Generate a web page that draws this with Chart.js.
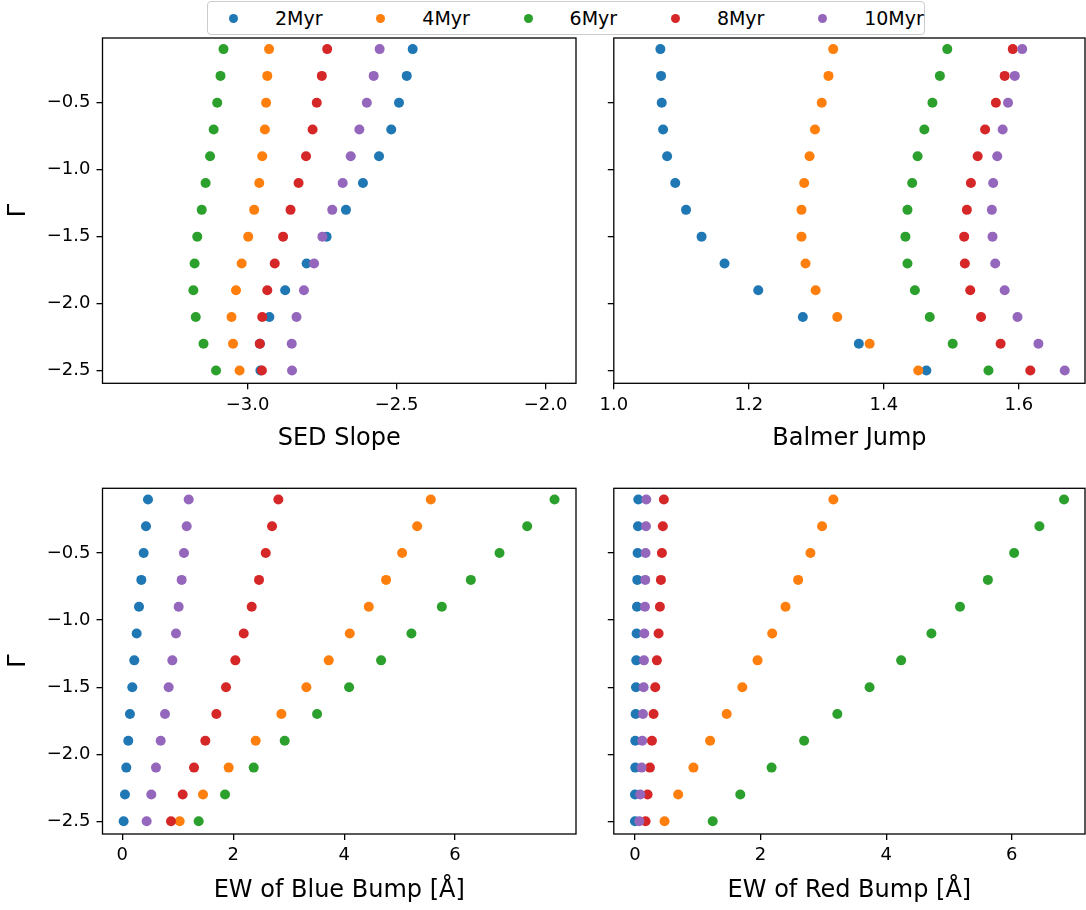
<!DOCTYPE html>
<html>
<head>
<meta charset="utf-8">
<script src="https://cdn.jsdelivr.net/npm/chart.js@4.4.1/dist/chart.umd.min.js"></script>
<style>
  html, body { margin: 0; padding: 0; background: #fff; overflow: hidden; }
  #wrap { position: relative; width: 1086px; height: 910px; overflow: hidden; font-family: "DejaVu Sans", sans-serif; }
  canvas { position: absolute; }
  #legend { position: absolute; left: 206.5px; top: 1px; width: 716px; height: 32px;
    border: 1px solid #cccccc; border-radius: 4px; background: rgba(255,255,255,0.8); }
  .item { position: absolute; top: 0; height: 32px; line-height: 32px; font-size: 19px; color: #000; }
  .dot { position: absolute; top: 11.5px; width: 9px; height: 9px; border-radius: 50%; }
</style>
</head>
<body>
<div id="wrap">
  <div id="legend"></div>
  <canvas id="pSed" width="590" height="455" style="left:0;top:0"></canvas>
  <canvas id="pBalmer" width="500" height="455" style="left:590px;top:0"></canvas>
  <canvas id="pBlue" width="590" height="455" style="left:0;top:455px"></canvas>
  <canvas id="pRed" width="500" height="455" style="left:590px;top:455px"></canvas>
</div>
<script>
const ages = ['2Myr', '4Myr', '6Myr', '8Myr', '10Myr'];
const colors = ['#1f77b4', '#ff7f0e', '#2ca02c', '#d62728', '#9467bd'];
const gamma = [-0.1, -0.3, -0.5, -0.7, -0.9, -1.1, -1.3, -1.5, -1.7, -1.9, -2.1, -2.3, -2.5];
const gammaTicks = [-0.5, -1.0, -1.5, -2.0, -2.5];

// SED slope
const sed2 = [-2.446, -2.466, -2.492, -2.518, -2.559, -2.613, -2.670, -2.735, -2.802, -2.874, -2.927, -2.959, -2.957];
const sed4 = [-2.928, -2.934, -2.938, -2.942, -2.951, -2.961, -2.978, -2.998, -3.020, -3.039, -3.054, -3.049, -3.027];
const sed6 = [-3.081, -3.091, -3.102, -3.114, -3.126, -3.141, -3.154, -3.169, -3.178, -3.182, -3.174, -3.148, -3.106];
const sed8 = [-2.733, -2.751, -2.768, -2.782, -2.804, -2.829, -2.856, -2.881, -2.909, -2.934, -2.951, -2.959, -2.952];
const sed10 = [-2.557, -2.577, -2.600, -2.625, -2.654, -2.681, -2.716, -2.749, -2.777, -2.811, -2.836, -2.852, -2.851];
const sedTicks = [-3.0, -2.5, -2.0];

// Balmer jump
const bj2 = [1.069, 1.070, 1.071, 1.073, 1.079, 1.091, 1.107, 1.130, 1.164, 1.214, 1.280, 1.363, 1.463];
const bj4 = [1.325, 1.318, 1.308, 1.298, 1.290, 1.282, 1.278, 1.278, 1.284, 1.299, 1.331, 1.379, 1.451];
const bj6 = [1.494, 1.483, 1.472, 1.460, 1.450, 1.442, 1.435, 1.432, 1.435, 1.446, 1.468, 1.502, 1.555];
const bj8 = [1.591, 1.579, 1.566, 1.550, 1.539, 1.529, 1.523, 1.519, 1.520, 1.528, 1.544, 1.573, 1.617];
const bj10 = [1.605, 1.594, 1.584, 1.576, 1.568, 1.562, 1.560, 1.561, 1.565, 1.579, 1.598, 1.629, 1.668];
const bjTicks = [1.0, 1.2, 1.4, 1.6];

// EW blue bump
const bb2 = [0.463, 0.427, 0.385, 0.343, 0.301, 0.259, 0.216, 0.180, 0.138, 0.108, 0.072, 0.048, 0.024];
const bb4 = [5.562, 5.316, 5.045, 4.756, 4.444, 4.101, 3.722, 3.319, 2.868, 2.405, 1.918, 1.455, 1.034];
const bb6 = [7.793, 7.300, 6.801, 6.284, 5.761, 5.213, 4.666, 4.089, 3.512, 2.928, 2.369, 1.852, 1.377];
const bb8 = [2.814, 2.700, 2.586, 2.465, 2.333, 2.189, 2.038, 1.870, 1.696, 1.497, 1.293, 1.088, 0.878];
const bb10 = [1.197, 1.161, 1.112, 1.070, 1.016, 0.968, 0.902, 0.836, 0.770, 0.692, 0.607, 0.523, 0.439];

// EW red bump
const rb2 = [0.053, 0.048, 0.042, 0.037, 0.032, 0.026, 0.021, 0.016, 0.011, 0.005, 0.005, 0.000, 0.000];
const rb4 = [3.159, 2.979, 2.794, 2.598, 2.397, 2.185, 1.952, 1.709, 1.460, 1.196, 0.931, 0.688, 0.471];
const rb6 = [6.831, 6.439, 6.037, 5.619, 5.175, 4.720, 4.238, 3.735, 3.222, 2.693, 2.175, 1.677, 1.238];
const rb8 = [0.460, 0.444, 0.429, 0.413, 0.397, 0.376, 0.349, 0.323, 0.296, 0.270, 0.238, 0.201, 0.169];
const rb10 = [0.180, 0.175, 0.169, 0.164, 0.159, 0.148, 0.143, 0.138, 0.127, 0.116, 0.106, 0.085, 0.069];
const ewTicks = [0, 2, 4, 6];

const FONT = '"DejaVu Sans", sans-serif';

// legend (shared by all panels)
const legend = document.getElementById('legend');
ages.forEach((a, i) => {
  const dot = document.createElement('span');
  dot.className = 'dot';
  dot.style.left = (21.5 + i * 147.3) + 'px';
  dot.style.background = colors[i];
  legend.appendChild(dot);
  const lab = document.createElement('span');
  lab.className = 'item';
  lab.style.left = (67.5 + i * 147.3) + 'px';
  lab.textContent = a;
  legend.appendChild(lab);
});

const frame = {
  id: 'frame',
  afterDraw(chart) {
    const a = chart.chartArea, ctx = chart.ctx;
    ctx.save();
    ctx.strokeStyle = '#000';
    ctx.lineWidth = 1.3;
    ctx.strokeRect(a.left, a.top, a.right - a.left, a.bottom - a.top);
    ctx.restore();
  }
};

const fmt = (v, d) => v.toFixed(d).replace('-', '\u2212');

function panel(id, series, p) {
  new Chart(document.getElementById(id), {
    type: 'scatter',
    data: {
      datasets: series.map((vals, i) => ({
        label: ages[i],
        data: vals.map((x, k) => ({ x: x, y: gamma[k] })),
        backgroundColor: colors[i],
        borderWidth: 0,
        pointRadius: 5,
        pointHoverRadius: 5,
        order: series.length - i
      }))
    },
    options: {
      responsive: false,
      animation: false,
      events: [],
      layout: { padding: { left: 0, top: p.top, right: p.right, bottom: 0 } },
      plugins: { legend: { display: false }, tooltip: { enabled: false } },
      scales: {
        x: {
          type: 'linear',
          min: p.xmin, max: p.xmax,
          afterBuildTicks: s => { s.ticks = p.xticks.map(v => ({ value: v })); },
          afterFit: s => { s.height = p.xh; },
          border: { display: false },
          grid: { drawOnChartArea: false, drawTicks: true, tickLength: 6, color: '#000', lineWidth: 1.3 },
          ticks: { autoSkip: false, maxRotation: 0, padding: 5, color: '#000',
            font: { family: FONT, size: 18 }, callback: v => fmt(v, p.dec) },
          title: { display: true, text: p.xlabel, color: '#000',
            font: { family: FONT, size: 24 }, padding: { top: 0, bottom: p.tpad } }
        },
        y: {
          type: 'linear',
          min: -2.595, max: -0.017,
          afterBuildTicks: s => { s.ticks = gammaTicks.map(v => ({ value: v })); },
          afterFit: s => { s.width = p.yw; },
          border: { display: false },
          grid: { drawOnChartArea: false, drawTicks: true, tickLength: 6, color: '#000', lineWidth: 1.3 },
          ticks: { display: p.ylab, autoSkip: false, padding: 6, color: '#000',
            font: { family: FONT, size: 18 }, callback: v => fmt(v, 1) },
          title: { display: p.ylab, text: '\u0393', color: '#000',
            font: { family: FONT, size: 24 }, padding: { top: 4, bottom: 0 } }
        }
      }
    },
    plugins: [frame]
  });
}

panel('pSed', [sed2, sed4, sed6, sed8, sed10], {
  top: 38, right: 14, xh: 71.7, yw: 102.5, xmin: -3.487, xmax: -1.898,
  xticks: sedTicks, dec: 1, xlabel: 'SED Slope', tpad: 1.8, ylab: true
});
panel('pBalmer', [bj2, bj4, bj6, bj8, bj10], {
  top: 38, right: 3, xh: 71.7, yw: 23.8, xmin: 1.0, xmax: 1.698,
  xticks: bjTicks, dec: 1, xlabel: 'Balmer Jump', tpad: 1.8, ylab: false
});
panel('pBlue', [bb2, bb4, bb6, bb8, bb10], {
  top: 33.3, right: 14, xh: 76, yw: 102.5, xmin: -0.357, xmax: 8.18,
  xticks: ewTicks, dec: 0, xlabel: 'EW of Blue Bump [\u00c5]', tpad: 5.2, ylab: true
});
panel('pRed', [rb2, rb4, rb6, rb8, rb10], {
  top: 33.3, right: 3, xh: 76, yw: 23.8, xmin: -0.337, xmax: 7.165,
  xticks: ewTicks, dec: 0, xlabel: 'EW of Red Bump [\u00c5]', tpad: 5.2, ylab: false
});
</script>
</body>
</html>
